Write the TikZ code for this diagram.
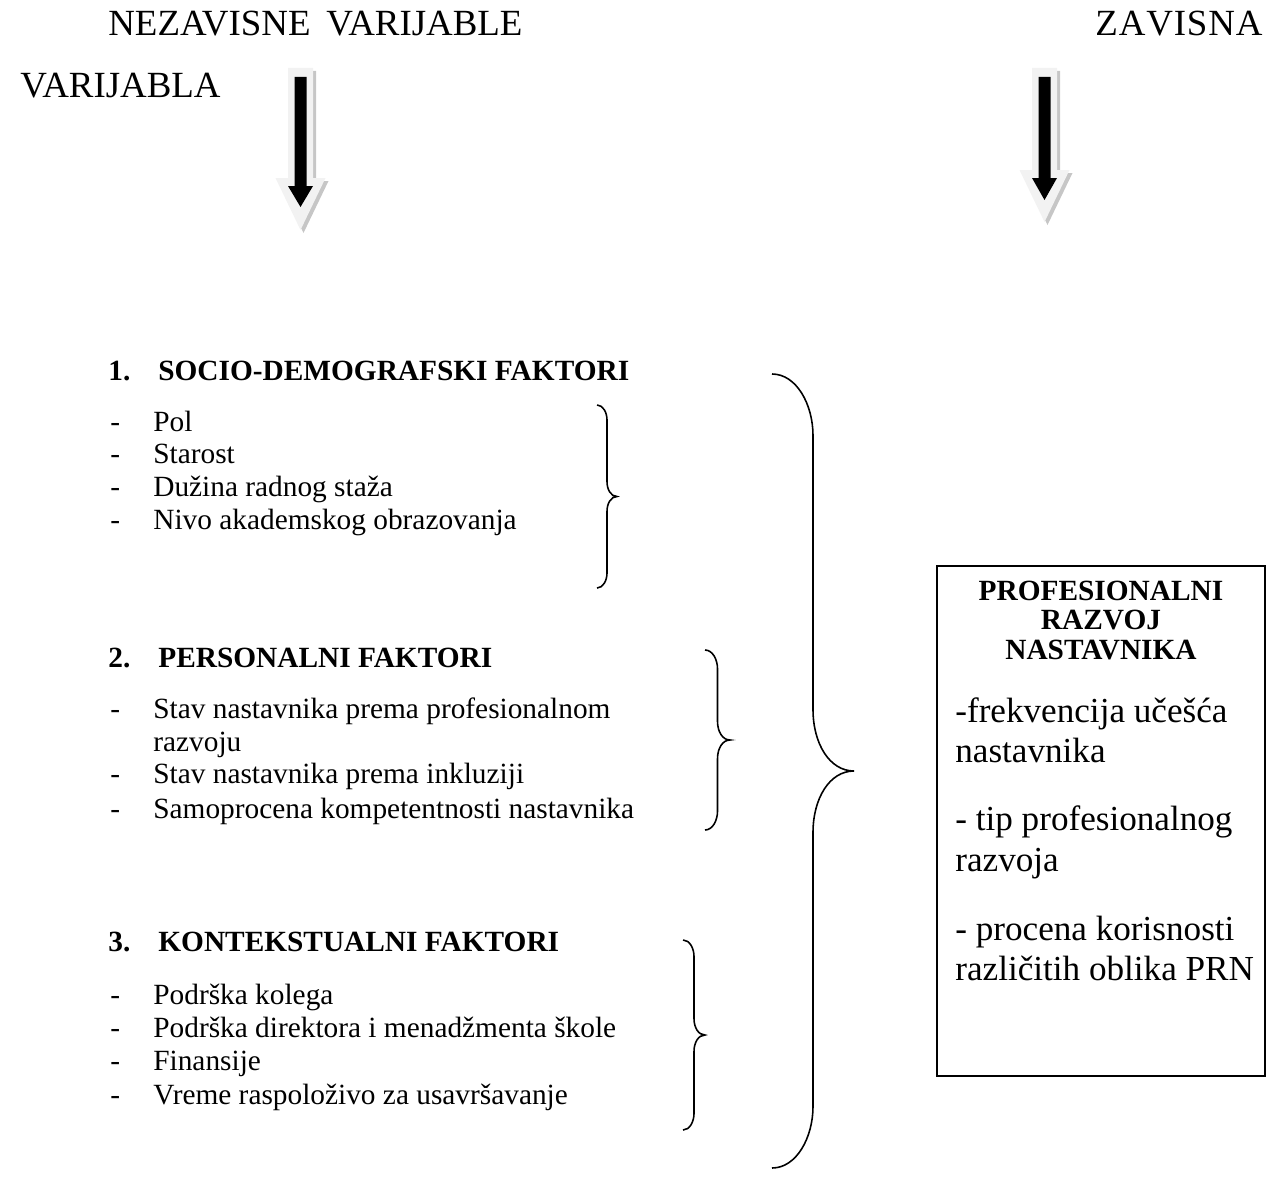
\documentclass[tikz,border=0pt]{standalone}
\usepackage{fontspec}
\setmainfont{Liberation Serif}
\usepackage{tikz}
\usetikzlibrary{positioning}

% block arrow: centre x, head y, tip y (outer outline), inner tip y
\newcommand{\blockarrow}[4]{%
  \fill[gray!45, shift={(3,3)}] (#1-12.5,68) -- (#1+12.5,68) -- (#1+12.5,#2) -- (#1+25,#2)
        -- (#1,#3) -- (#1-25,#2) -- (#1-12.5,#2) -- cycle;
  \fill[gray!10] (#1-12.5,68) -- (#1+12.5,68) -- (#1+12.5,#2) -- (#1+25,#2)
        -- (#1,#3) -- (#1-25,#2) -- (#1-12.5,#2) -- cycle;
  \fill[black] (#1-6,77) -- (#1+6,77) -- (#1+6,#2+8) -- (#1+12.5,#2+8)
        -- (#1,#4) -- (#1-12.5,#2+8) -- (#1-6,#2+8) -- cycle;
}

% right curly brace: x of ends, top y, bottom y, half width
\newcommand{\curlybrace}[4]{%
  \pgfmathsetmacro{\bm}{(#2+#3)/2}%
  \pgfmathsetmacro{\bv}{1.5*#4}%
  \draw[line width=0.9pt]
    (#1,#2) .. controls (#1+0.6*#4,#2) and (#1+#4,#2+0.5*\bv) .. (#1+#4,#2+\bv)
    -- (#1+#4,\bm-\bv) .. controls (#1+#4,\bm-0.45*\bv) and (#1+1.4*#4,\bm) .. (#1+2*#4,\bm)
    .. controls (#1+1.4*#4,\bm) and (#1+#4,\bm+0.45*\bv) .. (#1+#4,\bm+\bv)
    -- (#1+#4,#3-\bv) .. controls (#1+#4,#3-0.5*\bv) and (#1+0.6*#4,#3) .. (#1,#3);
}

\begin{document}
\begin{tikzpicture}[
  x=0.02cm, y=-0.02cm,
  title/.style={anchor=base west, inner sep=0pt, font=\fontsize{21}{25}\selectfont},
  head/.style={anchor=base west, inner sep=0pt, font=\fontsize{16.7}{19}\selectfont\bfseries},
  item/.style={anchor=base west, inner sep=0pt, font=\fontsize{16.7}{19}\selectfont},
  boxtext/.style={anchor=base west, inner sep=0pt, font=\fontsize{20}{24}\selectfont},
  boxhead/.style={anchor=base, inner sep=0pt, font=\fontsize{16.7}{19}\selectfont\bfseries}
]
\useasboundingbox (0,0) rectangle (1270,1176);

% top labels
\node[title] (nez) at (108,36) {NEZAVISNE\hspace{9pt}VARIJABLE};
\node[title] (zav) at (1095,36) {Z\kern0.5pt A\kern0.5pt V\kern0.5pt I\kern0.5pt S\kern0.5pt N\kern0.5pt A};
\node[title] (var) at (20,97) {VARIJABLA};

\blockarrow{300.5}{178}{230}{207}
\blockarrow{1044.5}{170}{222}{200}

% group 1
\node[head] (n1) at (108,380) {1.};
\node[head] (h1) at (158,380) {SOCIO-DEMOGRAFSKI FAKTORI};
\foreach \y/\t [count=\i] in {431/Pol, 463/Starost, 496/Dužina radnog staža, 529/Nivo akademskog obrazovanja} {
  \node[item] (d1\i) at (110,\y) {-};
  \node[item] (s1\i) at (153,\y) {\t};
}

% group 2
\node[head] (n2) at (108,667) {2.};
\node[head] (h2) at (158,667) {PERSONALNI FAKTORI};
\foreach \y/\t [count=\i] in {718/Stav nastavnika prema profesionalnom, 783/Stav nastavnika prema inkluziji, 818/Samoprocena kompetentnosti nastavnika} {
  \node[item] (d2\i) at (110,\y) {-};
  \node[item] (s2\i) at (153,\y) {\t};
}
\node[item] (s2x) at (153,751) {razvoju};

% group 3
\node[head] (n3) at (108,951) {3.};
\node[head] (h3) at (158,951) {KONTEKSTUALNI FAKTORI};
\foreach \y/\t [count=\i] in {1004/Podrška kolega, 1037/Podrška direktora i menadžmenta škole, 1070/Finansije, 1104/Vreme raspoloživo za usavršavanje} {
  \node[item] (d3\i) at (110,\y) {-};
  \node[item] (s3\i) at (153,\y) {\t};
}

% braces
\curlybrace{597}{405}{588}{10}
\curlybrace{705}{650}{830}{12.5}
\curlybrace{683}{940}{1130}{11}
\curlybrace{772}{374}{1168}{41}

% dependent variable box
\draw[line width=1.2pt] (937,566) rectangle (1265,1076);
\node[boxhead] (p1) at (1101,600) {PROFESIONALNI};
\node[boxhead] (p2) at (1101,629) {RAZVOJ};
\node[boxhead] (p3) at (1101,659) {NASTAVNIKA};
\node[boxtext] (r1) at (955,722) {-frekvencija učešća};
\node[boxtext] (r2) at (955,762) {nastavnika};
\node[boxtext] (r3) at (955,830) {- tip profesionalnog};
\node[boxtext] (r4) at (955,871) {razvoja};
\node[boxtext] (r5) at (955,940) {- procena korisnosti};
\node[boxtext] (r6) at (955,980) {različitih oblika PRN};
\end{tikzpicture}
\end{document}
